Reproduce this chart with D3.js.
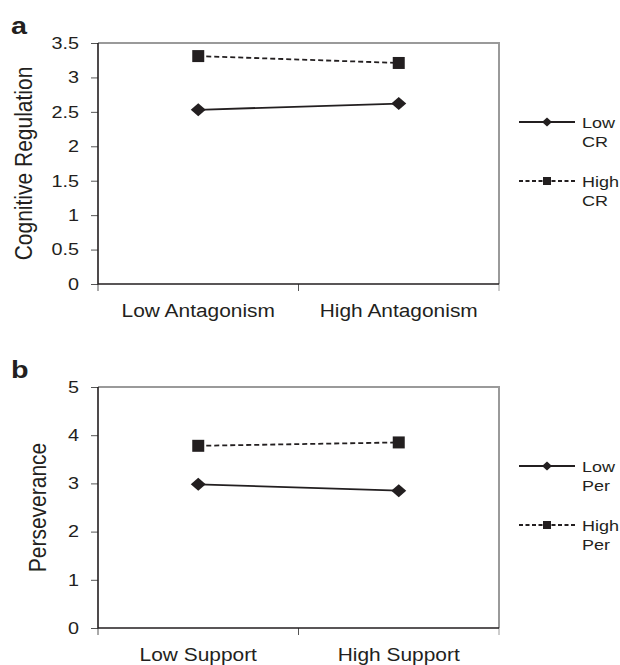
<!DOCTYPE html>
<html>
<head>
<meta charset="utf-8">
<title>Interaction plots</title>
<script src="https://d3js.org/d3.v7.min.js"></script>
<style>
    html, body { margin: 0; padding: 0; background: #fff; }
    svg { display: block; font-family: "Liberation Sans", Arial, sans-serif; }
    text { fill: #231f20; }
</style>
</head>
<body>
<svg id="chart" width="620" height="665"></svg>
<script>
// panel a
const catsA = ['Low Antagonism', 'High Antagonism'];
const lowCR = [2.53, 2.62];
const highCR = [3.31, 3.21];
const ticksA = [0, 0.5, 1, 1.5, 2, 2.5, 3, 3.5];

// panel b
const catsB = ['Low Support', 'High Support'];
const lowPer = [2.98, 2.85];
const highPer = [3.78, 3.85];
const ticksB = [0, 1, 2, 3, 4, 5];

const ink = '#231f20';
const sx = 1.2; // the figure is stretched a bit horizontally

const svg = d3.select('#chart');

function drawPanel(opts) {
    const { letter, top, bottom, left, right, cats, ticks, yMax, yTitle, titleX, series } = opts;
    const g = svg.append('g');

    const x = d3.scaleBand().domain(cats).range([left, right]);
    const y = d3.scaleLinear().domain([0, yMax]).range([bottom, top]);

    // gray top/right frame
    g.append('path')
        .attr('d', `M${left},${top}H${right}V${bottom}`)
        .attr('fill', 'none')
        .attr('stroke', '#9a9a9a')
        .attr('stroke-width', 2);

    // y axis
    const yAxis = g.append('g')
        .attr('transform', `translate(${left},0)`)
        .call(d3.axisLeft(y).tickValues(ticks).tickSize(7).tickPadding(8.8).tickFormat(d => String(d)));
    yAxis.select('.domain').remove();
    yAxis.selectAll('.tick line').attr('stroke', '#555');
    yAxis.selectAll('.tick text')
        .attr('font-size', 16.5)
        .attr('fill', ink)
        .attr('transform', `scale(${sx},1)`);

    // x axis labels
    const xAxis = g.append('g')
        .attr('transform', `translate(0,${bottom})`)
        .call(d3.axisBottom(x).tickSize(0).tickPadding(19.5));
    xAxis.select('.domain').remove();
    xAxis.selectAll('.tick text')
        .attr('font-size', 19)
        .attr('fill', ink)
        .attr('transform', 'scale(1.1,1)');

    // x ticks on band edges
    const edges = cats.map(c => x(c)).concat([x(cats[cats.length - 1]) + x.bandwidth()]);
    g.selectAll('line.xtick')
        .data(edges)
        .join('line')
        .attr('class', 'xtick')
        .attr('x1', d => d).attr('x2', d => d)
        .attr('y1', bottom).attr('y2', bottom + 7)
        .attr('stroke', (d, i) => i === edges.length - 1 ? '#9a9a9a' : '#555');

    // black axis lines
    g.append('path')
        .attr('d', `M${left},${top}V${bottom}H${right}`)
        .attr('fill', 'none')
        .attr('stroke', ink)
        .attr('stroke-width', 1.6);

    // axis title
    g.append('text')
        .attr('transform', `translate(${titleX},${(top + bottom) / 2}) scale(1.12,1) rotate(-90)`)
        .attr('text-anchor', 'middle')
        .attr('dy', '0.35em')
        .attr('font-size', 21)
        .text(yTitle);

    // panel letter
    g.append('text')
        .attr('transform', `translate(11,${top - 9}) scale(1.25,1)`)
        .attr('font-size', 23)
        .attr('font-weight', 'bold')
        .text(letter);

    const line = d3.line()
        .x((d, i) => x(cats[i]) + x.bandwidth() / 2)
        .y(d => y(d));

    series.forEach(s => {
        g.append('path')
            .datum(s.values)
            .attr('d', line)
            .attr('fill', 'none')
            .attr('stroke', ink)
            .attr('stroke-width', 1.8)
            .attr('stroke-dasharray', s.dashed ? '5,3' : null);

        g.selectAll(null)
            .data(s.values)
            .join('path')
            .attr('transform', (d, i) => `translate(${x(cats[i]) + x.bandwidth() / 2},${y(d)})`)
            .attr('d', s.dashed ? 'M-6,-6H6V6H-6Z' : 'M0,-6.5L7.5,0L0,6.5L-7.5,0Z')
            .attr('fill', ink);
    });

    // legend
    const lx0 = right + 20, lx1 = right + 76, lm = right + 48;
    series.forEach(s => {
        const lg = g.append('g').attr('transform', `translate(0,${s.legendY})`);
        lg.append('line')
            .attr('x1', lx0).attr('x2', lx1)
            .attr('stroke', ink)
            .attr('stroke-width', 1.8)
            .attr('stroke-dasharray', s.dashed ? '4,2.5' : null);
        lg.append('path')
            .attr('transform', `translate(${lm},0)`)
            .attr('d', s.dashed ? 'M-4,-4H4V4H-4Z' : 'M0,-4.5L5,0L0,4.5L-5,0Z')
            .attr('fill', ink);
        const t = lg.append('text')
            .attr('transform', `translate(${lx1 + 7},0) scale(1.2,1)`)
            .attr('font-size', 15);
        s.label.forEach((w, i) => {
            t.append('tspan').attr('x', 0).attr('y', i * 20 + 5.5).text(w);
        });
    });
}

drawPanel({
    letter: 'a', top: 43, bottom: 284, left: 98, right: 499,
    cats: catsA, ticks: ticksA, yMax: 3.5,
    yTitle: 'Cognitive Regulation', titleX: 24,
    series: [
        { values: lowCR, dashed: false, label: ['Low', 'CR'], legendY: 122 },
        { values: highCR, dashed: true, label: ['High', 'CR'], legendY: 181 }
    ]
});

drawPanel({
    letter: 'b', top: 387, bottom: 628, left: 98, right: 499,
    cats: catsB, ticks: ticksB, yMax: 5,
    yTitle: 'Perseverance', titleX: 38,
    series: [
        { values: lowPer, dashed: false, label: ['Low', 'Per'], legendY: 466 },
        { values: highPer, dashed: true, label: ['High', 'Per'], legendY: 525 }
    ]
});
</script>
</body>
</html>
